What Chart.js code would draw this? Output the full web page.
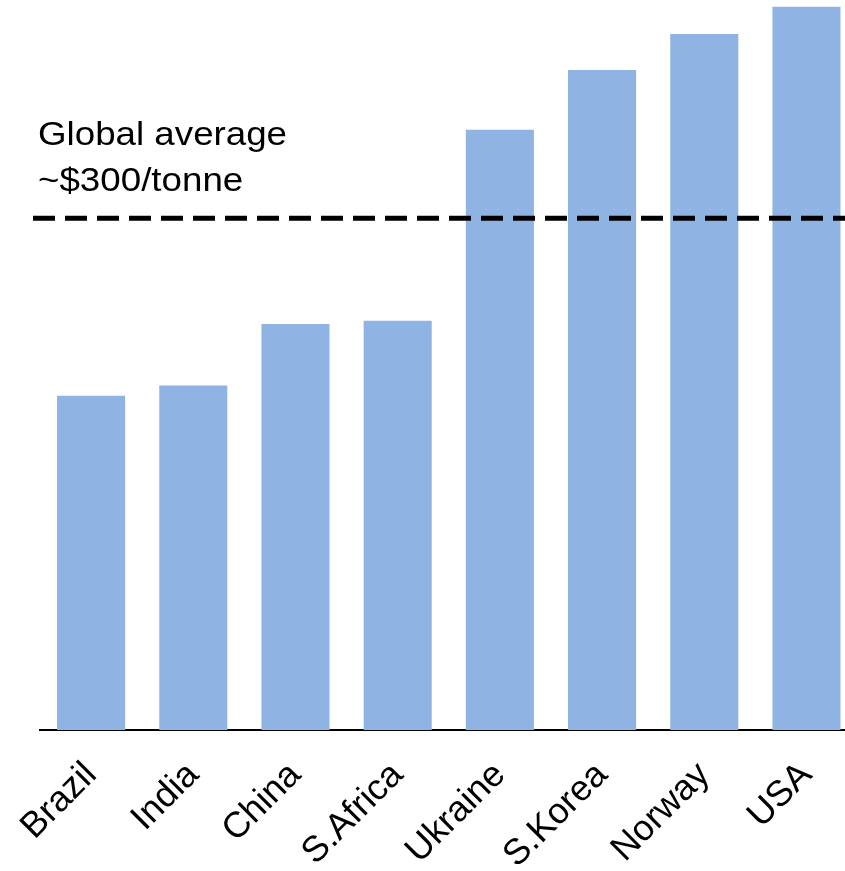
<!DOCTYPE html>
<html>
<head>
<meta charset="utf-8">
<script src="https://cdn.jsdelivr.net/npm/chart.js@4/dist/chart.umd.min.js"></script>
<style>
  html, body { margin: 0; padding: 0; background: #fff; overflow: hidden; }
  #wrap { width: 861px; height: 871px; }
</style>
</head>
<body>
<div id="wrap"><canvas id="grafik" width="861" height="871"></canvas></div>
<script>
// data
const negara = ["Brazil", "India", "China", "S.Africa", "Ukraine", "S.Korea", "Norway", "USA"];
const harga = [196, 202, 238, 240, 352, 387, 408, 424];
const rataGlobal = 300;
const teksRata = ["Global average", "~$300/tonne"];

// garis putus-putus + keterangan rata-rata global
const garisRata = {
  id: "garisRata",
  afterDatasetsDraw(chart) {
    const ctx = chart.ctx;
    const y = chart.scales.y.getPixelForValue(rataGlobal);
    ctx.save();
    ctx.strokeStyle = "#000";
    ctx.lineWidth = 5;
    ctx.setLineDash([22, 10]);
    ctx.beginPath();
    ctx.moveTo(33, y);
    ctx.lineTo(chart.width, y);
    ctx.stroke();

    ctx.fillStyle = "#000";
    ctx.font = "34px 'Liberation Sans', Arial, sans-serif";
    ctx.textBaseline = "alphabetic";
    ctx.translate(38, 0);
    ctx.scale(1.08, 1);
    ctx.fillText(teksRata[0], 0, y - 73);
    ctx.fillText(teksRata[1], 0, y - 27);
    ctx.restore();
  }
};

const config = {
  type: "bar",
  data: {
    labels: negara,
    datasets: [{
      data: harga,
      backgroundColor: "#8FB3E2",
      borderWidth: 0,
      categoryPercentage: 1,
      barPercentage: 0.666
    }]
  },
  options: {
    responsive: false,
    animation: false,
    layout: { padding: { left: 40, right: 0, top: 0, bottom: 0 } },
    plugins: {
      legend: { display: false },
      tooltip: { enabled: false }
    },
    scales: {
      x: {
        grid: { display: false, drawTicks: false },
        border: { display: true, color: "#000", width: 2 },
        ticks: {
          color: "#000",
          font: { family: "'Liberation Sans', Arial, sans-serif", size: 36 },
          maxRotation: 45,
          minRotation: 45,
          padding: 24,
          autoSkip: false
        },
        afterFit(skala) { skala.height = 141; }
      },
      y: {
        display: false,
        min: 0,
        max: 428
      }
    }
  },
  plugins: [garisRata]
};

new Chart(document.getElementById("grafik").getContext("2d"), config);
</script>
</body>
</html>
